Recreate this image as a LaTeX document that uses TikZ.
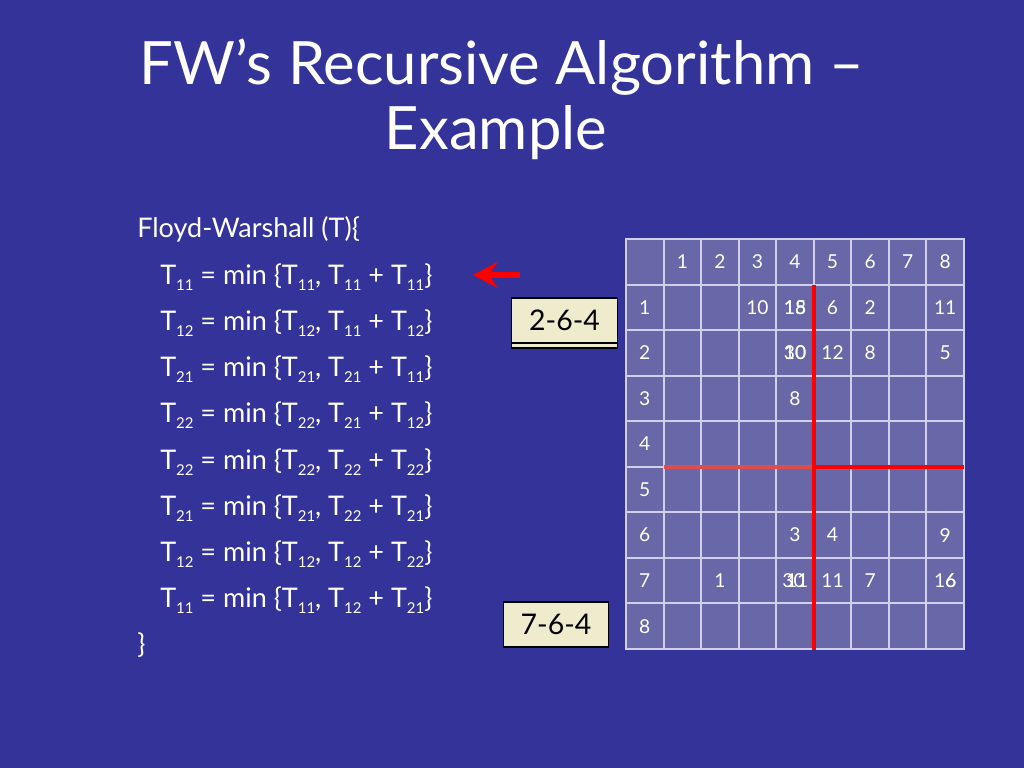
\documentclass[tikz,border=0pt]{standalone}
\usepackage{fontspec}
\setmainfont{Lato}
\usetikzlibrary{arrows.meta,shadows}
\definecolor{slidebg}{RGB}{51,51,153}
\definecolor{cellfill}{RGB}{104,104,168}
\definecolor{gridline}{RGB}{208,208,238}
\definecolor{boxfill}{RGB}{238,236,204}
\definecolor{redlite}{RGB}{222,76,76}
\newcommand{\idx}[1]{\raisebox{-0.45ex}{\fontsize{10.5}{11}\selectfont #1}}
\tikzset{
  cell/.style={draw=gridline, line width=1.4pt, fill=cellfill, minimum width=26.4pt,
    minimum height=32pt, inner sep=0pt, outer sep=0pt},
  val/.style={text=white, font=\fontsize{13.5}{15}\selectfont, inner sep=0pt},
  numbox/.style={draw=black, line width=0.8pt, fill=boxfill, minimum width=74pt,
    minimum height=31.6pt, inner sep=0pt, font=\fontsize{20}{24}\selectfont},
  stacked/.style={copy shadow={shadow xshift=0pt, shadow yshift=-3.5pt}},
  code/.style={anchor=base west, text=white, inner sep=0pt, font=\fontsize{19}{23}\selectfont},
  heading/.style={anchor=base, text=white, inner sep=0pt, font=\fontsize{42}{46}\selectfont},
  quad/.style={line width=2.5pt},
}
\begin{document}
\begin{tikzpicture}[x=0.703125pt,y=-0.703125pt]
    \fill[slidebg] (0,0) rectangle (1024,768);
    \useasboundingbox (0,0) rectangle (1024,768);
    % title
    \node[heading] (title1) at (502,85) {FW’s Recursive Algorithm –};
    \node[heading] (title2) at (496,150) {Example};
    % pseudo code
    \node[code] (fw) at (137,238) {Floyd-Warshall (T)\{};
    \foreach \i/\a/\b/\c/\d in {1/11/11/11/11, 2/12/12/11/12, 3/21/21/21/11, 4/22/22/21/12,
                                5/22/22/22/22, 6/21/21/22/21, 7/12/12/12/22, 8/11/11/12/21}
      \node[code] (line\i) at (160,238+46.2*\i)
        {T\idx{\a} = min \{T\idx{\b}, T\idx{\c} + T\idx{\d}\}};
    \node[code] (close) at (137,238+46.2*9) {\}};
    % arrow
    \coordinate (arrtail) at (520,275);
    \coordinate (arrtip) at (473,275);
    \draw[red, line width=3.7pt, -{Stealth[length=17pt,width=18pt]}] (arrtail) -- (arrtip);
    % paths
    \node[numbox, stacked] (p264) at (564.5,320.5) {2-6-4};
    \node[numbox] (p764) at (556,624.5) {7-6-4};
    % table
    \foreach \r in {0,...,8}
      \foreach \c in {0,...,8}
        \node[cell] (c-\r-\c) at (644.8+37.55*\c,261.8+45.55*\r) {};
    \foreach \k in {1,...,8} {
      \node[val] (h-\k) at (c-0-\k) {\k};
      \node[val] (r-\k) at (c-\k-0) {\k};
    }
    \foreach \r/\c/\v/\dx in {1/3/10/0, 1/4/15/0, 1/4/18/0, 1/5/6/0, 1/6/2/0, 1/8/11/0,
                              2/4/30/0, 2/4/10/0, 2/5/12/0, 2/6/8/0, 2/8/5/0, 3/4/8/0,
                              6/4/3/0, 6/5/4/0, 6/8/9/0, 7/2/1/0, 7/4/30/-1, 7/4/11/1.5,
                              7/5/11/0, 7/6/7/0, 7/8/16/0, 7/8/6/4}
      \node[val, xshift=\dx pt] (v-\r-\c-\v) at (c-\r-\c) {\v};
    % quadrants
    \draw[quad, redlite] (c-5-1.north west) -- (c-5-5.north west);
    \draw[quad, red] (c-5-5.north west) -- (c-5-8.north east);
    \draw[quad, red] (c-1-5.north west) -- ([yshift=-1pt]c-8-5.south west);
\end{tikzpicture}
\end{document}
